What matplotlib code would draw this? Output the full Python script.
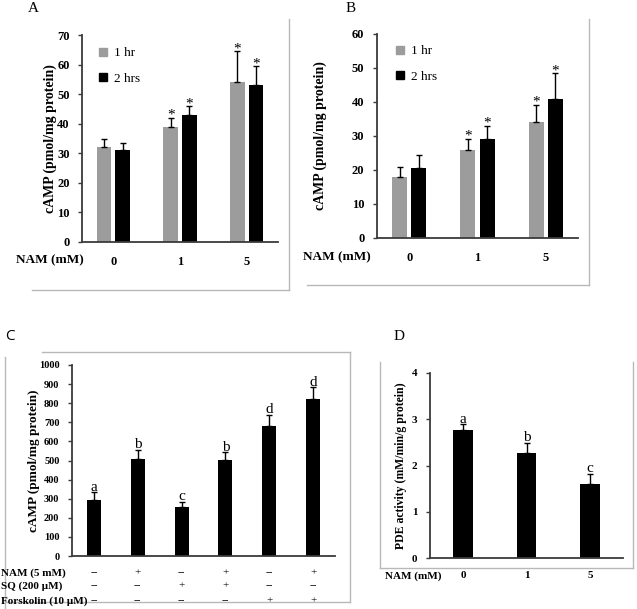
import matplotlib
matplotlib.use("Agg")
import matplotlib.pyplot as plt
from matplotlib.lines import Line2D
from matplotlib.transforms import blended_transform_factory
import numpy as np

# ---- data ----
NAM_DOSES = ["0", "1", "5"]

A_1HR = [32, 39, 54]
A_1HR_ERR = [3, 3, 10.5]
A_2HR = [31, 43, 53]
A_2HR_ERR = [2.5, 3, 6.5]

B_1HR = [18, 26, 34]
B_1HR_ERR = [3, 3.2, 5.2]
B_2HR = [20.5, 29, 41]
B_2HR_ERR = [3.8, 4, 7.5]

C_VALS = [293, 510, 255, 503, 682, 822]
C_ERR = [40, 45, 30, 40, 56, 61]
C_LETTERS = ["a", "b", "c", "b", "d", "d"]
C_ROWS = ["NAM (5 mM)", "SQ (200 \u00b5M)", "Forskolin (10 \u00b5M)"]
C_SIGNS = [
    ["--", "+", "--", "+", "--", "+"],
    ["--", "--", "+", "+", "--", "--"],
    ["--", "--", "--", "--", "+", "+"],
]

D_VALS = [2.77, 2.28, 1.59]
D_ERR = [0.12, 0.21, 0.23]
D_LETTERS = ["a", "b", "c"]

W, H = 637, 609
SERIF = ["Liberation Serif", "DejaVu Serif"]
GREY = "#9c9c9c"
AXC = "#3a3a3a"
FRAME = "#b8b8b8"

plt.rcParams.update({
    "font.family": SERIF,
    "font.size": 9,
    "font.weight": "bold",
})

fig = plt.figure(figsize=(W / 100, H / 100), dpi=100)


def px_axes(x0, y0, x1, y1):
    """axes from pixel box (left, top, right, bottom)."""
    return fig.add_axes([x0 / W, 1 - y1 / H, (x1 - x0) / W, (y1 - y0) / H])


def style(ax, ymax, step, size=9):
    for s in ("top", "right"):
        ax.spines[s].set_visible(False)
    for s in ("left", "bottom"):
        ax.spines[s].set_color(AXC)
        ax.spines[s].set_linewidth(1.3)
    ax.set_ylim(0, ymax)
    ax.set_yticks(np.arange(0, ymax + step / 2, step))
    ax.tick_params(axis="y", direction="out", length=3, width=1, color=AXC, pad=6,
                   labelsize=size)
    ax.tick_params(axis="x", length=0, pad=10, labelsize=size)


def fline(x0, y0, x1, y1):
    fig.add_artist(Line2D([x0 / W, x1 / W], [1 - y0 / H, 1 - y1 / H],
                          color=FRAME, lw=1.0, transform=fig.transFigure))


def ftext(x, y, s, **kw):
    fig.text(x / W, 1 - y / H, s, **kw)


def up_err(ax, x, v, e):
    ax.errorbar(x, v, yerr=[np.zeros(len(v)), e], fmt="none", ecolor="black",
                elinewidth=1.0, capsize=2.5, capthick=1.0)


def time_panel(ax, one, one_e, two, two_e, ymax, step, legend_xy):
    x = np.arange(len(NAM_DOSES))
    w, off = 0.22, 0.14
    ax.bar(x - off, one, w, color=GREY)
    ax.bar(x + off, two, w, color="black")
    up_err(ax, x - off, one, one_e)
    up_err(ax, x + off, two, two_e)
    for i in range(1, 3):
        for xx, v, e in ((x[i] - off, one[i], one_e[i]), (x[i] + off, two[i], two_e[i])):
            ax.annotate("*", (xx, v + e), textcoords="offset points", xytext=(0, -3),
                        ha="center", va="bottom", fontsize=11, fontweight="normal")
    style(ax, ymax, step)
    ax.set_xlim(-0.47, 2.47)
    ax.set_xticks(x)
    ax.set_xticklabels(NAM_DOSES)
    ax.set_ylabel("cAMP (pmol/mg protein)", fontsize=10, fontweight="bold")
    handles = [Line2D([], [], marker="s", ls="none", color=GREY, ms=5.5),
               Line2D([], [], marker="s", ls="none", color="black", ms=5.5)]
    ax.legend(handles, ["1 hr", "2 hrs"], loc="upper left", frameon=False,
              bbox_to_anchor=(legend_xy[0] / W, 1 - legend_xy[1] / H),
              bbox_transform=fig.transFigure, borderpad=0, borderaxespad=0,
              handlelength=0.7, handletextpad=0.5, labelspacing=1.0,
              prop={"family": SERIF, "size": 9.5, "weight": "normal"})


# ---- panel A ----
axA = px_axes(82, 35, 278, 242)
time_panel(axA, A_1HR, A_1HR_ERR, A_2HR, A_2HR_ERR, 70, 10, (98, 47))
axA.yaxis.set_label_coords(-0.13, 0.5)
ftext(16, 260, "NAM (mM)", ha="left", va="center", fontsize=9.5)
ftext(33, 9, "A", ha="center", va="center", fontsize=11, fontweight="normal")
fline(289, 19, 289, 290)
fline(32, 290, 289, 290)

# ---- panel B ----
axB = px_axes(377, 34, 578, 238)
time_panel(axB, B_1HR, B_1HR_ERR, B_2HR, B_2HR_ERR, 60, 10, (395, 45))
axB.yaxis.set_label_coords(-0.25, 0.5)
ftext(303, 257, "NAM (mM)", ha="left", va="center", fontsize=9.5)
ftext(351, 9, "B", ha="center", va="center", fontsize=11, fontweight="normal")
fline(589, 19, 589, 285)
fline(307, 285, 589, 285)

# ---- panel C ----
axC = px_axes(72, 365, 335, 556)
xc = np.arange(len(C_VALS))
axC.bar(xc, C_VALS, 0.32, color="black")
up_err(axC, xc, C_VALS, C_ERR)
for xx, v, e, lab in zip(xc, C_VALS, C_ERR, C_LETTERS):
    axC.annotate(lab, (xx, v + e), textcoords="offset points", xytext=(0, -1),
                 ha="center", va="bottom", fontsize=11, fontweight="normal")
style(axC, 1000, 100, size=7.5)
axC.set_xlim(-0.5, 5.5)
axC.set_xticks([])
axC.set_ylabel("cAMP (pmol/mg protein)", fontsize=9.5, fontweight="bold")
axC.yaxis.set_label_coords(-0.12, 0.5)
row_tr = blended_transform_factory(axC.transData, fig.transFigure)
for lab, signs, ypx in zip(C_ROWS, C_SIGNS, [573, 586, 601]):
    ftext(1, ypx, lab, ha="left", va="center", fontsize=8)
    for xx, s in zip(xc, signs):
        axC.text(xx, 1 - ypx / H, s, transform=row_tr, ha="center", va="center",
                 fontsize=8, fontweight="normal")
ftext(10, 337, "C", ha="center", va="center", fontsize=11, fontweight="normal",
      family=["Open Sans", "DejaVu Sans"])
fline(42, 352, 350, 352)
fline(350, 352, 350, 602)
fline(5, 357, 5, 609)
fline(5, 602, 350, 602)

# ---- panel D ----
axD = px_axes(430, 373, 623, 558)
xd = np.arange(len(D_VALS))
axD.bar(xd, D_VALS, 0.31, color="black")
up_err(axD, xd, D_VALS, D_ERR)
for xx, v, e, lab in zip(xd, D_VALS, D_ERR, D_LETTERS):
    axD.annotate(lab, (xx, v + e), textcoords="offset points", xytext=(0, -1),
                 ha="center", va="bottom", fontsize=11, fontweight="normal")
style(axD, 4, 1, size=8)
axD.tick_params(axis="x", pad=9)
axD.set_xlim(-0.52, 2.52)
axD.set_xticks(xd)
axD.set_xticklabels(NAM_DOSES)
axD.set_ylabel("PDE activity (mM/min/g protein)", fontsize=8.5, fontweight="bold")
axD.yaxis.set_label_coords(-0.12, 0.5)
ftext(385, 576, "NAM (mM)", ha="left", va="center", fontsize=8)
ftext(399, 337, "D", ha="center", va="center", fontsize=11, fontweight="normal")
fline(380, 362, 380, 568)
fline(633, 362, 633, 568)
fline(380, 568, 633, 568)

fig.savefig("out.png", dpi=100)
